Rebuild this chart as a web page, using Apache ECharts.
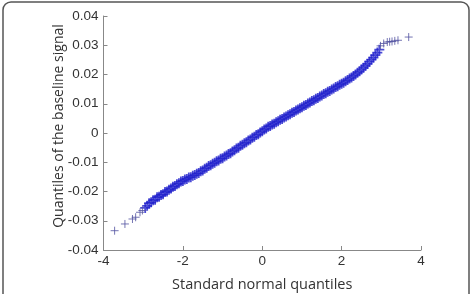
<!DOCTYPE html>
<html>
<head>
<meta charset="utf-8">
<script src="https://cdn.jsdelivr.net/npm/echarts@6/dist/echarts.min.js"></script>
<style>
  html, body { margin: 0; padding: 0; background: #fff; }
  #chart { width: 473px; height: 294px; }
</style>
</head>
<body>
<div id="chart"></div>
<script>
// standard normal quantiles (x) and baseline signal quantiles (y)
const coreX = [-2.95,-2.90,-2.85,-2.80,-2.75,-2.70,-2.65,-2.60,-2.55,-2.50,-2.45,-2.40,-2.35,-2.30,-2.25,-2.20,-2.15,-2.10,-2.05,-2.00,
  -1.95,-1.90,-1.85,-1.80,-1.75,-1.70,-1.65,-1.60,-1.55,-1.50,-1.45,-1.40,-1.35,-1.30,-1.25,-1.20,-1.15,-1.10,-1.05,-1.00,
  -0.95,-0.90,-0.85,-0.80,-0.75,-0.70,-0.65,-0.60,-0.55,-0.50,-0.45,-0.40,-0.35,-0.30,-0.25,-0.20,-0.15,-0.10,-0.05,0.00,
  0.05,0.10,0.15,0.20,0.25,0.30,0.35,0.40,0.45,0.50,0.55,0.60,0.65,0.70,0.75,0.80,0.85,0.90,0.95,1.00,
  1.05,1.10,1.15,1.20,1.25,1.30,1.35,1.40,1.45,1.50,1.55,1.60,1.65,1.70,1.75,1.80,1.85,1.90,1.95,2.00,
  2.05,2.10,2.15,2.20,2.25,2.30,2.35,2.40,2.45,2.50,2.55,2.60,2.65,2.70,2.75,2.80,2.85,2.90,2.95];
const coreY = [-0.0256,-0.0249,-0.0240,-0.0237,-0.0230,-0.0228,-0.0220,-0.0218,-0.0212,-0.0209,-0.0202,-0.0200,-0.0194,-0.0190,-0.0184,-0.0181,-0.0175,-0.0172,-0.0166,-0.0164,
  -0.0159,-0.0157,-0.0152,-0.0151,-0.0146,-0.0144,-0.0139,-0.0137,-0.0131,-0.0128,-0.0122,-0.0119,-0.0113,-0.0110,-0.0105,-0.0102,-0.0097,-0.0094,-0.0088,-0.0086,
  -0.0080,-0.0077,-0.0072,-0.0069,-0.0063,-0.0059,-0.0053,-0.0050,-0.0044,-0.0040,-0.0035,-0.0032,-0.0026,-0.0022,-0.0016,-0.0013,-0.0007,-0.0004,0.0002,0.0006,
  0.0012,0.0015,0.0021,0.0024,0.0029,0.0032,0.0037,0.0040,0.0045,0.0048,0.0053,0.0056,0.0061,0.0064,0.0069,0.0072,0.0077,0.0080,0.0085,0.0088,
  0.0093,0.0096,0.0101,0.0104,0.0109,0.0112,0.0117,0.0120,0.0125,0.0128,0.0133,0.0136,0.0141,0.0144,0.0149,0.0152,0.0157,0.0160,0.0165,0.0168,
  0.0172,0.0177,0.0181,0.0186,0.0190,0.0195,0.0200,0.0206,0.0211,0.0217,0.0223,0.0230,0.0236,0.0244,0.0251,0.0258,0.0266,0.0275,0.0285];
const tailX = [-3.72,-3.46,-3.27,-3.19,-3.08,-3.02,2.98,3.06,3.15,3.21,3.27,3.34,3.42,3.69];
const tailY = [-0.0334,-0.0311,-0.0294,-0.0288,-0.0271,-0.0265,0.0298,0.0306,0.0311,0.0312,0.0313,0.0315,0.0317,0.0328];

const xTicks = [-4, -2, 0, 2, 4];
const yTicks = [-0.04, -0.03, -0.02, -0.01, 0, 0.01, 0.02, 0.03, 0.04];

const plus = 'path://M0,5 L10,5 M5,0 L5,10';

let chart = echarts.init(document.getElementById('chart'), null, { renderer: 'canvas' });

const zip = (xs, ys) => xs.map((x, i) => [x, ys[i]]);

const fmt = v => {
    let r = Math.round(v * 100) / 100;
    return r === 0 ? '0' : r.toFixed(2);
};

chart.setOption({
    animation: false,
    graphic: [{
        type: 'rect',
        shape: { x: 3, y: 2, width: 466, height: 300, r: 8 },
        style: { fill: 'none', stroke: '#555', lineWidth: 1.5 },
        z: 0
    }],
    grid: { left: 103.5, right: 52, top: 16, bottom: 44, outerBoundsMode: 'none', containLabel: false },
    xAxis: {
        type: 'value',
        min: xTicks[0], max: xTicks[xTicks.length - 1], interval: 2,
        name: 'Standard normal quantiles',
        nameLocation: 'middle', nameGap: 27, nameMoveOverlap: false,
        nameTextStyle: { fontFamily: 'Open Sans', fontSize: 14.5, color: '#333' },
        axisLine: { onZero: false, lineStyle: { color: '#888', width: 1 } },
        axisTick: { inside: true, length: 4, lineStyle: { color: '#888' } },
        axisLabel: { margin: 4, fontFamily: 'Liberation Sans', fontSize: 13.5, color: '#333' },
        splitLine: { show: false }
    },
    yAxis: {
        type: 'value',
        min: yTicks[0], max: yTicks[yTicks.length - 1], interval: 0.01,
        name: 'Quantiles of the baseline signal',
        nameLocation: 'middle', nameGap: 37, nameMoveOverlap: false,
        nameTextStyle: { fontFamily: 'Open Sans', fontSize: 14, color: '#333', padding: [0, 0, 0, 14] },
        axisLine: { show: true, onZero: false, lineStyle: { color: '#888', width: 1 } },
        axisTick: { show: true, inside: true, length: 4, lineStyle: { color: '#888' } },
        axisLabel: { margin: 5, fontFamily: 'Liberation Sans', fontSize: 13.5, color: '#333', formatter: fmt },
        splitLine: { show: false }
    },
    series: [{
        type: 'scatter',
        data: zip(coreX, coreY),
        symbol: plus, symbolSize: 10,
        itemStyle: { color: 'none', borderColor: '#1f1fcc', borderWidth: 1.8 }
    }, {
        type: 'scatter',
        data: zip(tailX, tailY),
        symbol: plus, symbolSize: 8,
        itemStyle: { color: 'none', borderColor: '#5252a0', borderWidth: 1 }
    }]
});
</script>
</body>
</html>
